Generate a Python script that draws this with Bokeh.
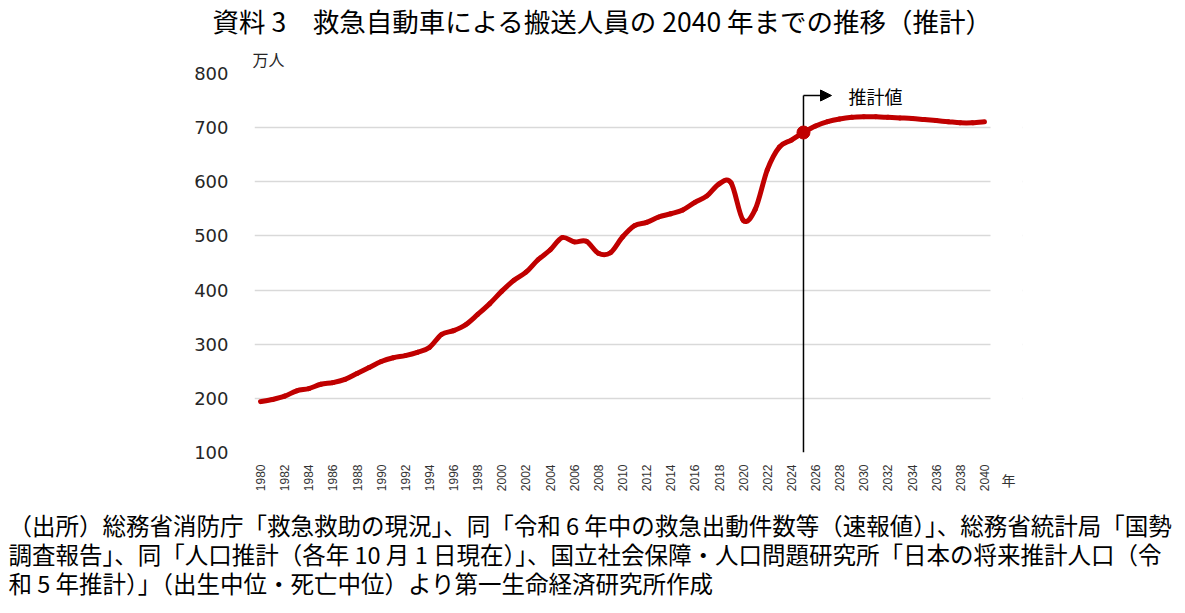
import math
from bokeh.plotting import figure
from bokeh.models import (Range1d, FixedTicker, Label, Arrow, NormalHead, Title,
                          LinearAxis, BoxAnnotation)
from bokeh.embed import file_html
from bokeh.resources import INLINE

# ---------------- data ----------------
years = list(range(1980, 2041))
actual = [194, 198, 204, 214, 218, 226, 229, 235, 246, 257,
          268, 275, 279, 285, 294, 318, 325, 336, 355, 375,
          398, 418, 433, 456, 474, 497, 489, 490, 468, 469,
          498, 519, 525, 535, 541, 548, 562, 574, 596, 598,
          529, 549, 622, 664, 677]
projected = [691, 703, 711, 716, 719, 720, 720, 719, 718, 717,
             715, 713, 711, 709, 709, 711]
values = actual + projected
proj_start = 2025
x_ticks = list(range(1980, 2041, 2))
y_ticks = list(range(100, 801, 100))

title_text = "資料 3　救急自動車による搬送人員の 2040 年までの推移（推計）"
y_unit = "万人"
x_unit = "年"
proj_label = "推計値"
footer_lines = [
    "（出所）総務省消防庁「救急救助の現況」、同「令和 6 年中の救急出動件数等（速報値）」、総務省統計局「国勢",
    "調査報告」、同「人口推計（各年 10 月 1 日現在）」、国立社会保障・人口問題研究所「日本の将来推計人口（令",
    "和 5 年推計）」（出生中位・死亡中位）より第一生命経済研究所作成",
]
RED = "#C00000"
JP = "Noto Sans CJK JP"

# ---------------- layout ----------------
W, H = 1185, 613
FL, FT, FH = 254, 73, 379
GRID_R = 990          # where the grid lines end (page px)
FR = 1022             # frame right edge (room for the unit label)
PX_PER_YEAR = (GRID_R - FL) / 61.0
X0 = 1979.5
XG = 2040.5
X1 = XG + (FR - GRID_R) / PX_PER_YEAR
Y0, Y1 = 100, 800

def dx(px):  # page px -> data x
    return X0 + (px - FL) / PX_PER_YEAR

def dy(py):  # page px -> data y
    return Y1 - (py - FT) / FH * (Y1 - Y0)

p = figure(width=W, height=H, output_backend="svg", toolbar_location=None,
           x_range=Range1d(X0, X1), y_range=Range1d(Y0, Y1),
           min_border_left=FL, min_border_top=FT,
           min_border_right=W - FR, min_border_bottom=H - FT - FH)
p.outline_line_color = None
p.background_fill_color = "white"
p.border_fill_color = "white"

p.title.text = title_text
p.title.align = "left"
p.title.offset = 212 - FL
p.title.vertical_align = "top"
p.title.text_font = JP
p.title.text_font_size = "26.5px"
p.title.text_font_style = "normal"
p.title.text_color = "black"
p.title.standoff = 0

p.add_layout(Title(text=y_unit, align="left", offset=-2, text_font=JP,
                   text_font_size="16px", text_font_style="normal",
                   text_color="#262626", standoff=5.5), "above")

p.xgrid.grid_line_color = None
p.ygrid.grid_line_color = "#D9D9D9"
p.ygrid.grid_line_width = 1.5
# keep grid lines from running past the last category
p.add_layout(BoxAnnotation(left=XG, fill_color="white", fill_alpha=1.0,
                           line_color=None))

p.yaxis.ticker = FixedTicker(ticks=y_ticks)
p.yaxis.axis_line_color = None
p.yaxis.major_tick_line_color = None
p.yaxis.minor_tick_line_color = None
p.yaxis.major_label_standoff = 20
p.yaxis.major_label_text_font = "DejaVu Sans"
p.yaxis.major_label_text_font_size = "18px"
p.yaxis.major_label_text_color = "#262626"

p.xaxis.ticker = FixedTicker(ticks=x_ticks)
p.xaxis.axis_line_color = None
p.xaxis.major_tick_line_color = None
p.xaxis.minor_tick_line_color = None
p.xaxis.major_label_standoff = 6
p.xaxis.major_label_orientation = math.pi / 2
p.xaxis.major_label_text_font = "Liberation Sans"
p.xaxis.major_label_text_font_size = "12px"
p.xaxis.major_label_text_color = "#333333"

# unit label for the x axis, as a second axis tick label
unit_x = dx(1008)
ax2 = LinearAxis(ticker=FixedTicker(ticks=[unit_x]),
                 major_label_overrides={unit_x: x_unit},
                 axis_line_color=None, major_tick_line_color=None,
                 minor_tick_line_color=None, major_label_standoff=-31,
                 major_label_orientation="horizontal",
                 major_label_text_font=JP, major_label_text_font_size="14px",
                 major_label_text_color="#333333")
p.add_layout(ax2, "below")

# smooth line (Catmull-Rom -> cubic Bezier segments)
n = len(years)
x0s, y0s, x1s, y1s, cx0, cy0, cx1, cy1 = [], [], [], [], [], [], [], []
for i in range(n - 1):
    pm = i - 1 if i > 0 else i
    pp = i + 2 if i + 2 < n else i + 1
    x0s.append(years[i]); y0s.append(values[i])
    x1s.append(years[i + 1]); y1s.append(values[i + 1])
    cx0.append(years[i] + (years[i + 1] - years[pm]) / 6)
    cy0.append(values[i] + (values[i + 1] - values[pm]) / 6)
    cx1.append(years[i + 1] - (years[pp] - years[i]) / 6)
    cy1.append(values[i + 1] - (values[pp] - values[i]) / 6)
p.bezier(x0=x0s, y0=y0s, x1=x1s, y1=y1s, cx0=cx0, cy0=cy0, cx1=cx1, cy1=cy1,
         line_color=RED, line_width=5, line_cap="round")

# projection marker
k = years.index(proj_start)
p.segment(x0=[proj_start], y0=[Y0], x1=[proj_start], y1=[dy(95)],
          line_color="black", line_width=1.5)
p.add_layout(Arrow(end=NormalHead(size=11, fill_color="black", line_color="black", line_width=1),
                   x_start=proj_start, y_start=dy(95), x_end=dx(831), y_end=dy(95),
                   line_color="black", line_width=1.5))
p.scatter(x=[years[k]], y=[values[k]], size=13, color=RED)

p.add_layout(Label(x=dx(848), y=dy(95), text=proj_label, text_font=JP,
                   text_font_size="18px", text_baseline="middle", text_color="black"))

# spacer between the axis band and the source note
p.add_layout(Title(text=" ", text_font=JP, text_font_size="9px", standoff=0), "below")
for i, line in enumerate(footer_lines):
    p.add_layout(Title(text=line, align="left", offset=8 - FL, text_font=JP,
                       text_font_size="23.5px", text_font_style="normal",
                       text_color="black", standoff=-7), "below")

open("out.html", "w").write(file_html(p, INLINE))
